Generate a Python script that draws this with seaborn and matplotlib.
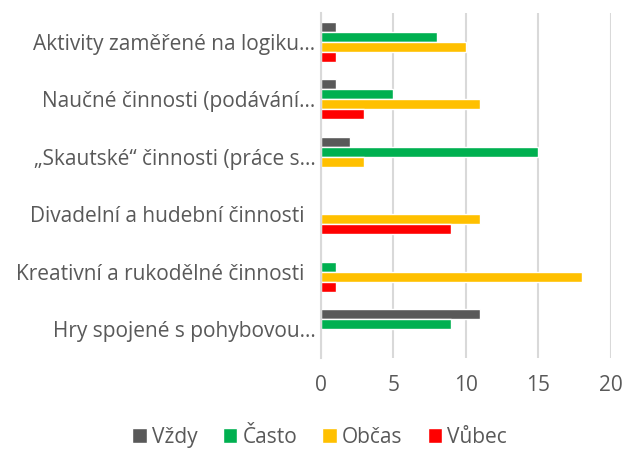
import seaborn as sns
import matplotlib.pyplot as plt
import pandas as pd

categories = [
    "Aktivity zaměřené na logiku…",
    "Naučné činnosti (podávání…",
    "„Skautské“ činnosti (práce s…",
    "Divadelní a hudební činnosti  ",
    "Kreativní a rukodělné činnosti  ",
    "Hry spojené s pohybovou…",
]
series = ["Vždy", "Často", "Občas", "Vůbec"]
vzdy = [1, 1, 2, 0, 0, 11]
casto = [8, 5, 15, 0, 1, 9]
obcas = [10, 11, 3, 11, 18, 0]
vubec = [1, 3, 0, 9, 1, 0]
colors = ["#595959", "#00B050", "#FFC000", "#FF0000"]

rows = []
for name, vals in zip(series, [vzdy, casto, obcas, vubec]):
    for cat, v in zip(categories, vals):
        rows.append({"cat": cat, "series": name, "value": v})
df = pd.DataFrame(rows)

sns.set_style("white")
plt.rcParams["font.family"] = ["Open Sans", "DejaVu Sans"]
text_col = "#595959"

fig, ax = plt.subplots(figsize=(6.27, 4.53), dpi=100)
fig.subplots_adjust(left=0.512, right=0.974, top=0.971, bottom=0.21)

sns.barplot(data=df, y="cat", x="value", hue="series", order=categories,
            hue_order=series, palette=colors, orient="h", width=0.7,
            saturation=1, gap=0, ax=ax, legend=True)

ax.set_xlim(0, 20)
ax.set_xticks([0, 5, 10, 15, 20])
ax.set_xlabel("")
ax.set_ylabel("")
ax.xaxis.grid(True, color="#D9D9D9", linewidth=1.5)
ax.set_axisbelow(True)
for s in ["top", "right", "bottom"]:
    ax.spines[s].set_visible(False)
ax.spines["left"].set_color("#D9D9D9")
ax.spines["left"].set_linewidth(1.5)
ax.tick_params(axis="both", length=0, labelsize=15, colors=text_col)
ax.tick_params(axis="x", pad=12)
ax.tick_params(axis="y", pad=4)

handles, labels = ax.get_legend_handles_labels()
ax.get_legend().remove()
fig.legend(handles, labels, loc="center", bbox_to_anchor=(0.51, 0.035), ncol=4,
           frameon=False, fontsize=15, labelcolor=text_col, handlelength=0.7,
           handleheight=0.7, handletextpad=0.25, columnspacing=1.2)

fig.savefig("out.png", dpi=100)
